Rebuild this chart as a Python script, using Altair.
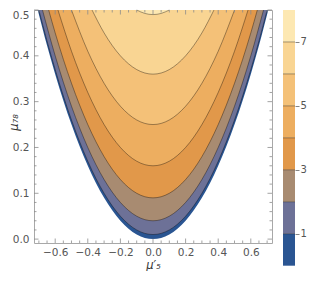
import altair as alt
import pandas as pd

# ---- data ----
levels = [0, 1, 2, 3, 4, 5, 6, 7]
# right half of each contour (mirrored about x = 0); level 0 is the region edge
contour_x = [
    [0, 0.1, 0.2, 0.3, 0.4, 0.5, 0.6, 0.65, 0.707],
    [0, 0.1, 0.2, 0.3, 0.4, 0.5, 0.6, 0.65, 0.70],
    [0, 0.1, 0.2, 0.3, 0.4, 0.5, 0.6, 0.678],
    [0, 0.1, 0.2, 0.3, 0.4, 0.5, 0.6, 0.64],
    [0, 0.1, 0.2, 0.3, 0.4, 0.5, 0.583],
    [0, 0.1, 0.2, 0.3, 0.4, 0.5],
    [0, 0.1, 0.2, 0.3, 0.374],
    [0, 0.05, 0.1],
]
contour_y = [
    [0.0, 0.01, 0.04, 0.09, 0.16, 0.25, 0.36, 0.4225, 0.5],
    [0.01, 0.02, 0.05, 0.10, 0.17, 0.26, 0.37, 0.4325, 0.50],
    [0.04, 0.05, 0.08, 0.13, 0.20, 0.29, 0.40, 0.50],
    [0.09, 0.10, 0.13, 0.18, 0.25, 0.34, 0.45, 0.50],
    [0.16, 0.17, 0.20, 0.25, 0.32, 0.41, 0.50],
    [0.25, 0.26, 0.29, 0.34, 0.41, 0.50],
    [0.36, 0.37, 0.40, 0.45, 0.50],
    [0.49, 0.4925, 0.50],
]
band_colors = ["#2a5592", "#6d7197", "#a88b71", "#e1984a",
               "#edae60", "#f4c178", "#f9d593", "#fde8b2"]
legend_lo = [0, 1, 2, 3, 4, 5, 6, 7]
legend_hi = [1, 2, 3, 4, 5, 6, 7, 8]
legend_ticks = [1, 3, 5, 7]
legend_lines = [1, 2, 3, 4, 5, 6, 7]
x_major = [-0.6, -0.4, -0.2, 0.0, 0.2, 0.4, 0.6]
x_minor = [-0.7, -0.65, -0.55, -0.5, -0.45, -0.35, -0.3, -0.25, -0.15, -0.1, -0.05,
           0.05, 0.1, 0.15, 0.25, 0.3, 0.35, 0.45, 0.5, 0.55, 0.65, 0.7]
y_major = [0.0, 0.1, 0.2, 0.3, 0.4, 0.5]
y_minor = [0.02, 0.04, 0.06, 0.08, 0.12, 0.14, 0.16, 0.18, 0.22, 0.24, 0.26, 0.28,
           0.32, 0.34, 0.36, 0.38, 0.42, 0.44, 0.46, 0.48]

FONT = "DejaVu Sans"
xscale = alt.Scale(domain=[-0.73, 0.73], nice=False, zero=False)
yscale = alt.Scale(domain=[-0.0085, 0.5], nice=False, zero=False)
# colour-bar scale: bar runs from the plot top to ~23px below the plot bottom
lscale = alt.Scale(domain=[0.71, 8], nice=False, zero=False)

rows = []
for k in levels:
    xs, ys = contour_x[k], contour_y[k]
    n = len(xs)
    px = [-xs[i] for i in range(n - 1, 0, -1)] + list(xs)
    py = [ys[i] for i in range(n - 1, 0, -1)] + list(ys)
    for j, (a, b) in enumerate(zip(px, py)):
        rows.append({"level": k, "x": a, "y": b, "top": 0.5, "o": j})
curves = pd.DataFrame(rows)

x_axis = alt.Axis(values=x_major, format=".1f", ticks=False, domain=False, grid=False,
                  labelFont=FONT, labelFontSize=10.5, labelColor="#555", labelPadding=4,
                  title="μ′₅", titleFont=FONT, titleFontSize=11.5, titleFontStyle="italic",
                  titleFontWeight="normal", titleColor="#333", titlePadding=2)
y_axis = alt.Axis(values=y_major, format=".1f", ticks=False, domain=False, grid=False,
                  labelFont=FONT, labelFontSize=10.5, labelColor="#555", labelPadding=5,
                  labelBaseline={"condition": {"test": "datum.value >= 0.45", "value": "top"},
                                 "value": "middle"},
                  title="μ₇₈", titleFont=FONT, titleFontSize=11.5, titleFontStyle="italic",
                  titleFontWeight="normal", titleColor="#333", titleAngle=270,
                  titleX=-17, titleY=112, titleAlign="center", titleBaseline="alphabetic")

X = lambda f: alt.X(f, scale=xscale, axis=x_axis)
Y = lambda f: alt.Y(f, scale=yscale, axis=y_axis)

layers = []
for k in levels:
    layers.append(
        alt.Chart(curves).transform_filter(alt.datum.level == k)
        .mark_area(color=band_colors[k], interpolate="monotone", line=False, opacity=1)
        .encode(x=X("x:Q"), y=Y("y:Q"), y2=alt.Y2("top:Q"))
    )
for k in levels[1:]:
    layers.append(
        alt.Chart(curves).transform_filter(alt.datum.level == k)
        .mark_line(color="#000", opacity=0.45, strokeWidth=0.8, interpolate="monotone")
        .encode(x=X("x:Q"), y=Y("y:Q"), order="o:Q")
    )

TICK = "#8c8c8c"


def xticks(vals, L):
    d = pd.DataFrame({"x": vals})
    base = alt.Chart(d).mark_rule(color=TICK, strokeWidth=0.8)
    return [base.encode(x=X("x:Q"), y=alt.value("height"), y2=alt.value({"expr": f"height - {L}"})),
            base.encode(x=X("x:Q"), y=alt.value(0), y2=alt.value(L))]


def yticks(vals, L):
    d = pd.DataFrame({"y": vals})
    base = alt.Chart(d).mark_rule(color=TICK, strokeWidth=0.8)
    return [base.encode(y=Y("y:Q"), x=alt.value(0), x2=alt.value(L)),
            base.encode(y=Y("y:Q"), x=alt.value("width"), x2=alt.value({"expr": f"width - {L}"}))]


layers += xticks(x_major, 4.5) + xticks(x_minor, 2.5) + yticks(y_major, 4.5) + yticks(y_minor, 2.5)
main = alt.layer(*layers)

# colour bar drawn next to the plot, with its own y scale
leg_df = pd.DataFrame({"lo": legend_lo, "hi": legend_hi, "c": band_colors})
laxis = alt.Axis(orient="right", offset=23, values=legend_ticks, tickSize=4, tickColor="#666",
                 tickWidth=0.8, domain=False, grid=False, labelFont=FONT, labelFontSize=10,
                 labelColor="#555", labelPadding=1, title=None)
bar = alt.Chart(leg_df).mark_rect().encode(
    x=alt.value({"expr": "width + 11"}), x2=alt.value({"expr": "width + 23"}),
    y=alt.Y("lo:Q", scale=lscale, axis=laxis),
    y2="hi:Q", color=alt.Color("c:N", scale=None))
blines = alt.Chart(pd.DataFrame({"lo": legend_lines})).mark_rule(
    color="#000", opacity=0.45, strokeWidth=0.8).encode(
    y=alt.Y("lo:Q", scale=lscale, axis=laxis),
    x=alt.value({"expr": "width + 11"}), x2=alt.value({"expr": "width + 23"}))
legend = alt.layer(bar, blines)

chart = alt.layer(main, legend).resolve_scale(y="independent").resolve_axis(
    y="independent"
).properties(
    width=299, height=263,
    autosize=alt.AutoSizeParams(type="fit", contains="padding"),
    padding={"left": 0, "top": 0, "right": 0, "bottom": 0},
).configure_view(stroke="#a8a8a8", strokeWidth=1)

chart.save("out.html", embed_options={"renderer": "svg", "actions": False})
